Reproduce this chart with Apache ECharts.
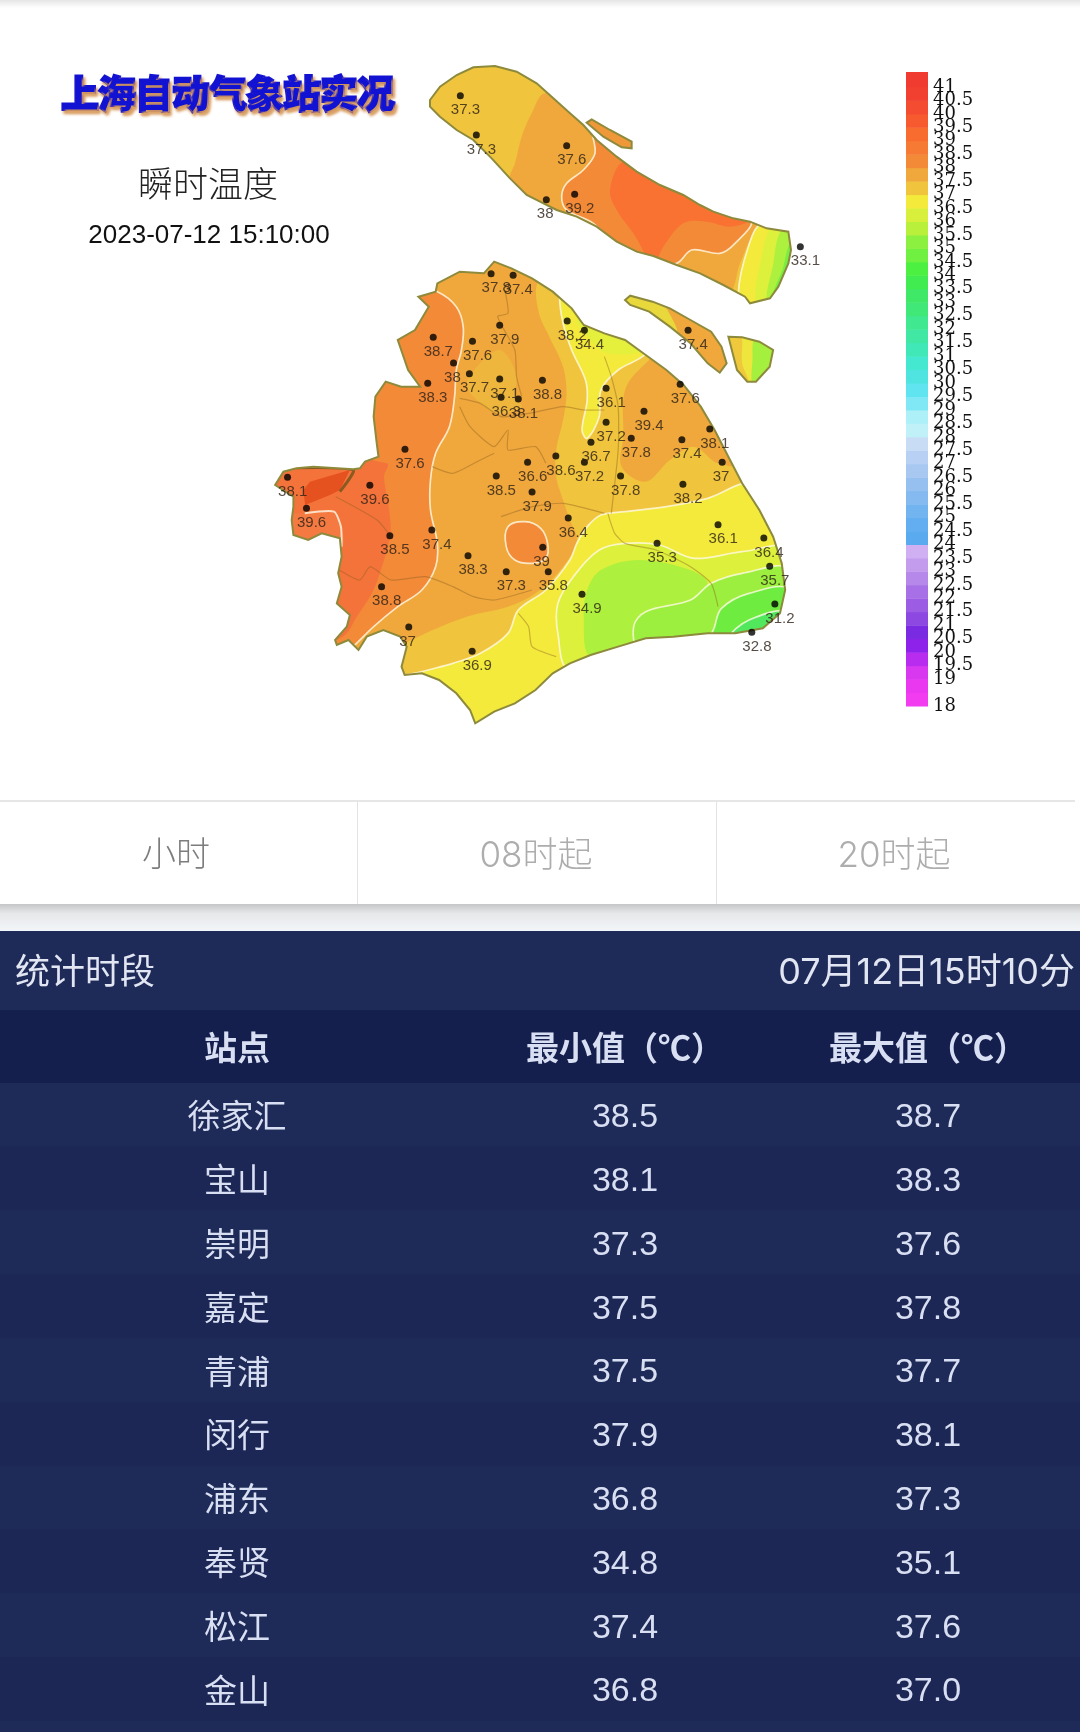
<![CDATA[<!DOCTYPE html>
<html><head><meta charset="utf-8">
<style>html,body{margin:0;padding:0;background:#fff}#c{width:1080px;height:1732px}</style>
<script src="https://cdn.jsdelivr.net/npm/echarts@6/dist/echarts.min.js"></script>
</head><body><div id="c"></div>
<script>
// ---------- table data ----------
const stationNames = ['徐家汇','宝山','崇明','嘉定','青浦','闵行','浦东','奉贤','松江','金山'];
const minValues = ['38.5','38.1','37.3','37.5','37.5','37.9','36.8','34.8','37.4','36.8'];
const maxValues = ['38.7','38.3','37.6','37.8','37.7','38.1','37.3','35.1','37.6','37.0'];
const columnHeaders = ['站点','最小值（℃）','最大值（℃）'];
const tabLabels = ['小时','08时起','20时起'];

// ---------- weather stations, map units ----------
const mainX = [671,735,696,503,617,562,608,696,820,487,700,750,1005,1220,1115,1005,1078,1225,1306,961,1342,859,942,777,686,1047,1228,790,421,319,80,135,377,499,895,1330,1153,1463,1480,821,604,715,837,353,935,1495,1428,432,616,892,942,1243];
const mainY = [71,76,226,262,274,339,371,387,391,400,442,447,415,403,484,517,565,569,537,577,637,618,637,637,678,678,703,726,598,706,682,775,857,840,804,824,880,864,949,892,917,965,965,1010,1033,1062,1147,1131,1204,213,241,241];
const mainTemp = [37.8,37.4,37.9,38.7,37.6,38,37.7,37.1,38.8,38.3,36.3,38.1,36.1,37.6,39.4,37.2,37.8,37.4,38.1,36.7,37,38.6,37.2,36.6,38.5,37.8,38.2,37.9,37.6,39.6,38.1,39.6,38.5,37.4,36.4,36.1,35.3,36.4,35.7,39,38.3,37.3,35.8,38.8,34.9,31.2,32.8,37,36.9,38.2,34.4,37.4];
const northX = [121,169,440,464,379,1141];
const northY = [137,255,287,433,449,590];
const northTemp = [37.3,37.3,37.6,39.2,38,33.1];

// ---------- coast outlines ----------
const mainlandCoast = [[680,35],[730,55],[790,85],[850,125],[905,175],[940,225],[1000,250],[1060,270],[1120,315],[1180,360],[1230,405],[1280,470],[1320,540],[1360,620],[1400,700],[1450,780],[1490,860],[1515,940],[1525,1020],[1510,1090],[1460,1135],[1380,1150],[1300,1150],[1200,1160],[1120,1165],[1040,1190],[960,1215],[900,1240],[850,1270],[800,1320],[740,1360],[680,1385],[625,1420],[610,1380],[570,1330],[520,1290],[470,1270],[420,1275],[411,1250],[426,1190],[407,1160],[358,1140],[310,1160],[286,1200],[257,1170],[223,1185],[218,1170],[252,1130],[261,1095],[223,1060],[237,1010],[227,970],[237,920],[232,865],[179,850],[140,870],[97,855],[92,810],[97,770],[97,740],[44,705],[68,665],[106,655],[155,650],[271,658],[290,655],[305,635],[344,620],[339,580],[330,500],[335,440],[365,395],[410,410],[465,410],[430,360],[400,270],[450,240],[490,170],[460,140],[510,125],[515,100],[580,65],[650,70]];
const changxingCoast = [[1060,150],[1075,137],[1140,155],[1190,175],[1250,210],[1310,245],[1340,290],[1355,340],[1335,368],[1300,340],[1250,280],[1190,230],[1130,185],[1075,165]];
const hengshaCoast = [[1360,260],[1400,262],[1450,275],[1490,300],[1480,350],[1440,395],[1415,395],[1385,360],[1375,320]];
const chongmingCoast = [[30,150],[60,110],[110,75],[160,52],[225,48],[290,65],[350,100],[400,145],[450,190],[490,225],[530,270],[590,320],[650,365],[720,405],[790,435],[840,465],[880,485],[940,505],[990,515],[1040,535],[1105,545],[1113,600],[1105,640],[1075,710],[1050,745],[990,760],[975,740],[910,705],[840,670],[770,645],[700,618],[650,605],[590,575],[530,530],[470,500],[410,480],[360,455],[320,435],[270,385],[215,325],[160,270],[110,240],[60,200],[30,170]];
const isletCoast = [[500,218],[515,208],[570,240],[635,275],[635,295],[605,292],[550,260]];

// ---------- temperature bands of the mainland ----------
const hot38West = [[515,125],[570,170],[590,230],[585,300],[570,360],[565,440],[550,530],[510,610],[495,690],[495,780],[515,880],[510,950],[470,1020],[400,1070],[330,1130],[270,1190],[200,1250],[0,1100],[0,600],[300,300],[400,90]];
const hot39West = [[368,640],[360,680],[375,780],[378,855],[348,970],[325,1030],[281,1100],[240,1160],[100,1200],[0,1000],[0,600]];
const hot38Spot = [[720,830],[770,815],[815,835],[835,880],[830,925],[790,940],[740,930],[715,890]];
const warmPatchNorth = [[630,350],[690,300],[720,320],[745,380],[740,440],[760,470],[690,490],[620,440],[600,400]];
const cool37East = [[805,100],[810,190],[840,260],[880,350],[890,430],[880,510],[860,600],[860,680],[880,750],[900,810],[920,870],[880,950],[800,1030],[720,1070],[600,1100],[460,1160],[400,1200],[370,1300],[600,1440],[1568,1300],[1568,500],[1100,200],[850,60]];
const warm375Lobe = [[1115,345],[1060,420],[1055,560],[1050,650],[1120,695],[1190,630],[1260,590],[1330,640],[1420,640],[1300,400],[1180,300]];
const cool365North = [[870,140],[880,220],[905,300],[945,390],[950,450],[935,540],[950,565],[985,500],[990,420],[1040,360],[1110,320],[1140,280],[1000,150],[880,80]];
const cool36North = [[920,205],[960,270],[1010,310],[1110,300],[1040,230]];
const cool365South = [[1430,700],[1300,745],[1180,770],[1060,785],[990,795],[950,830],[920,880],[900,930],[830,1020],[750,1080],[720,1150],[640,1210],[560,1240],[470,1265],[400,1290],[600,1440],[1100,1300],[1568,1200],[1568,800]];
const cool36South = [[1540,900],[1400,905],[1260,925],[1160,885],[1060,880],[985,900],[910,980],[865,1060],[865,1150],[900,1260],[1200,1240],[1568,1200]];
const cool35Centre = [[990,960],[1100,930],[1250,960],[1300,1000],[1250,1050],[1120,1085],[1085,1130],[1100,1190],[960,1220],[940,1100],[950,1020]];
const cool35East = [[1540,960],[1400,970],[1310,1000],[1250,1050],[1120,1085],[1085,1130],[1105,1200],[1568,1200]];
const cool34East = [[1540,1020],[1420,1030],[1340,1075],[1320,1130],[1300,1200],[1568,1200]];
const cool33East = [[1540,1085],[1420,1110],[1370,1160],[1568,1180]];
const patchNorthWest = [[126,720],[145,695],[261,660],[232,720],[203,735],[131,765]];
const isotherm39 = [[130,790],[215,785],[235,830],[237,890]];
const patchSouthWest = [[130,790],[215,785],[235,830],[237,890],[100,900],[60,800]];
const darkStrip = [[106,653],[271,660],[232,725]];

// ---------- district borders ----------
const districtLines = [
 [[712,125],[720,190],[690,200],[740,300],[745,380],[760,440]],
 [[580,445],[640,460],[700,500],[780,490],[880,470],[940,480],[1000,480]],
 [[580,470],[610,530],[680,590],[720,540],[720,600],[800,590],[830,640]],
 [[500,650],[560,670],[640,630],[680,610]],
 [[230,960],[290,990],[320,950],[380,990],[480,980],[560,1010],[620,1040],[680,1050],[790,1020]],
 [[700,800],[790,770],[880,760],[1000,790]],
 [[1010,790],[1030,850],[1060,880],[1150,900],[1250,950],[1310,1000],[1330,1070]],
 [[750,1090],[780,1130],[790,1190],[860,1220]],
 [[1000,320],[1020,380],[1040,470],[1040,600],[1020,790]],
 [[220,740],[340,810],[380,860]]
];

// ---------- north islands bands ----------
const cmOrange = [[375,130],[335,190],[305,260],[285,340],[270,385],[300,480],[600,640],[920,730],[960,640],[985,580],[1020,510],[700,300],[500,170]];
const cm38 = [[520,240],[525,310],[490,360],[440,400],[425,440],[440,480],[520,520],[600,600],[700,640],[770,640],[815,600],[900,610],[945,580],[995,510],[900,450],[700,360],[600,280]];
const cm39 = [[610,335],[570,420],[590,480],[640,550],[700,640],[730,590],[790,520],[860,515],[930,530],[985,510],[860,450],[700,370]];
const cm365 = [[1025,520],[985,590],[955,730],[980,790],[1140,790],[1140,510]];
const cm36 = [[1060,525],[1025,620],[1015,770],[1140,780],[1140,510]];
const cm35 = [[1085,540],[1060,640],[1045,770],[1140,770],[1140,530]];
const cm34 = [[1110,580],[1090,650],[1060,750],[1140,750],[1140,560]];
const changxingYellow = [[1040,120],[1150,140],[1180,175],[1210,250],[1100,190],[1040,170]];
const hengshaWest = [[1350,250],[1395,250],[1400,340],[1420,410],[1350,410]];
const hengshaEast = [[1440,260],[1430,330],[1435,410],[1510,410],[1510,260]];

// ---------- colour scale ----------
const scaleTemps = [41,18]; // top and bottom legend ticks
const scalePalette = ['#f23cf0','#ea38f0','#d838f0','#b82cf0','#8f22ea','#7a2ae0','#8c48e0','#9c5ce4','#a870e6','#b688ea','#c49cee','#d0b0f2','#5aaaf0','#62aef0','#72b4f0','#84baf0','#96c0f0','#a8c8f2','#b8d0f4','#c8dcf6','#c0f0f8','#aef0f8','#80e8f4','#60e4f0','#50e4e0','#44e8d0','#40e8b8','#40e8a4','#40e890','#40e878','#40e868','#40ec50','#4cf040','#70f040','#8cf040','#b8f03c','#d8f03c','#f4ea3c','#f0c43c','#f0a83c','#f28a38','#f67a34','#f86c30','#f85a30','#f44c30','#f24030','#f03c30'];
const scaleData = scalePalette.map((c,i)=>[18+i*0.5]);
const tempColor = t => scalePalette[Math.round((t-18)*2)];

const WHITE_LINE = 'rgba(255,250,230,0.8)';
const COAST = '#8d8a3c';
const CJK = '"Noto Sans CJK SC","Noto Sans",sans-serif';
const UI_LATIN = 'Inter,"Noto Sans CJK SC",sans-serif';
const NUM = '"Liberation Sans","Noto Sans CJK SC",sans-serif';

function land(coast, base, bands, lines){
  return {
    type:'custom', coordinateSystem:'cartesian2d', clip:false, silent:true, z:2,
    data:[[0,0]],
    renderItem:(p,api)=>{
      const pts = a => a.map(q=>api.coord(q));
      const kids = [{type:'polygon',shape:{points:pts(coast)},style:{fill:base}}];
      (bands||[]).forEach(b=>kids.push({type:'polygon',shape:{points:pts(b.pts),smooth:b.smooth===0?0:0.35},
        style:{fill:b.color,stroke:b.line?WHITE_LINE:null,lineWidth:b.line?1.7:0}}));
      (lines||[]).forEach(l=>kids.push({type:'polyline',shape:{points:pts(l.pts),smooth:0.2},
        style:{fill:null,stroke:l.color,lineWidth:l.width}}));
      return {type:'group',children:[
        {type:'group',clipPath:{type:'polygon',shape:{points:pts(coast)}},children:kids},
        {type:'polygon',shape:{points:pts(coast)},style:{fill:null,stroke:COAST,lineWidth:2}}
      ]};
    }
  };
}
const B=(pts,t,line,smooth)=>({pts,color:typeof t==='number'?tempColor(t):t,line,smooth});

const mainBands = [
  B(hot38West,38,true), B(hot39West,'#f4733a',false), B(patchSouthWest,'#f47a42',false),
  B(patchNorthWest,'#e5511f',false,0),
  B(hot38Spot,38,true), B(warmPatchNorth,'#eeb63c',false),
  B(cool37East,37,false), B(warm375Lobe,37.5,false),
  B(cool365North,36.5,true), B(cool36North,'#e4f03c',false),
  B(cool365South,36.5,true), B(cool36South,'#dcf03c',true),
  B(cool35Centre,'#aef03e',false), B(cool35East,'#9cef3e',true), B(cool34East,'#6fec40',true), B(cool33East,'#52e85e',true)
];
const mainLines = districtLines.map(l=>({pts:l,color:'rgba(140,95,30,0.42)',width:1.2}))
  .concat([{pts:isotherm39,color:WHITE_LINE,width:2},{pts:darkStrip,color:'#8a5a20',width:3}]);
const cmBands = [
  B(cmOrange,37.5,false), B(cm38,38,true), B(cm39,'#f97232',false),
  B(cm365,36.5,true), B(cm36,'#dcf03c',false), B(cm35,'#aef03e',false), B(cm34,'#78ee40',false)
];

function stations(xs,ys,ts,ax){
  return {type:'scatter',xAxisIndex:ax,yAxisIndex:ax,symbol:'circle',symbolSize:7,z:5,silent:true,clip:false,
    itemStyle:{color:'#000'},
    data:xs.map((x,i)=>[x,ys[i],ts[i]]),
    label:{show:true,position:[-6,18],align:'left',verticalAlign:'middle',formatter:p=>String(p.value[2]),
      fontFamily:'"Liberation Sans",sans-serif',fontSize:15,color:'#2c2018'},
    labelLayout:{hideOverlap:false}
  };
}
const at = (o,ax)=>Object.assign(o,{xAxisIndex:ax,yAxisIndex:ax});

const series = [
  at(land(mainlandCoast,tempColor(37.5),mainBands,mainLines),0),
  at(land(changxingCoast,tempColor(37.5),[B(changxingYellow,'#e8d83c',false)],null),0),
  at(land(hengshaCoast,'#eee63c',[B(hengshaWest,'#efc83c',false),B(hengshaEast,'#a5ef3f',false)],null),0),
  at(land(chongmingCoast,tempColor(37),cmBands,null),1),
  at(land(isletCoast,'#ee983a',null,null),1),
  stations(mainX,mainY,mainTemp,0),
  stations(northX,northY,northTemp,1),
  { type:'custom',xAxisIndex:2,yAxisIndex:2,silent:true,z:3,clip:false,data:scaleData,encode:{y:0},
    renderItem:(p,api)=>{
      const v=api.value(0);
      const a=api.coord([0,v+0.5]), b=api.coord([1,v]);
      const top=p.dataIndex===scalePalette.length-1?1.5:0;
      return {type:'rect',shape:{x:a[0],y:a[1]-top,width:b[0]-a[0],height:b[1]-a[1]+0.5+top},style:{fill:scalePalette[p.dataIndex]}};
    }},
  { type:'custom',xAxisIndex:3,yAxisIndex:3,silent:true,z:3,clip:false,
    data:stationNames.map((n,i)=>[i,minValues[i],maxValues[i]]),
    encode:{y:0},
    renderItem:(p,api)=>{
      const i=p.dataIndex, h=api.size([0,1])[1];
      const cols=[237,625,928];
      const row=api.coord([0,i]);
      const txt=(s,cx,f,dy)=>({type:'text',x:cx,y:row[1]+dy,style:{text:s,fill:'#d9dff2',font:f,textAlign:'center',textVerticalAlign:'middle'}});
      return {type:'group',children:[
        {type:'rect',shape:{x:0,y:row[1]-h/2,width:1080,height:h},style:{fill:i%2?'#1c2755':'#1e2a58'}},
        txt(stationNames[i],cols[0],'33px '+CJK,1),txt(minValues[i],cols[1],'34px '+NUM,3),txt(maxValues[i],cols[2],'34px '+NUM,3)
      ]};
    }}
];

const T=(text,x,y,size,fill,align,weight,extra,fam)=>({type:'text',x,y,z:20,silent:true,style:Object.assign({text,fill,
  font:(weight||'normal')+' '+size+'px '+(fam||CJK),textAlign:align||'center',textVerticalAlign:'middle'},extra||{})});

const graphics = [
  {type:'rect',z:-1,silent:true,shape:{x:0,y:0,width:1080,height:8},style:{fill:new echarts.graphic.LinearGradient(0,0,0,1,[{offset:0,color:'#e6e6e6'},{offset:1,color:'#ffffff'}])}},
  T('上海自动气象站实况',228,94,37,'#1212d2','center','900',{stroke:'#1212d2',lineWidth:3,textShadowColor:'#d89a5a',textShadowBlur:3,textShadowOffsetX:2,textShadowOffsetY:3}),
  T('瞬时温度',208,184,35,'#222','center','300'),
  {type:'text',x:209,y:236,z:20,silent:true,style:{text:'2023-07-12 15:10:00',fill:'#111',font:'26px "Liberation Sans",sans-serif',textAlign:'center',textVerticalAlign:'middle'}},
  {type:'rect',silent:true,shape:{x:0,y:800,width:1075,height:2},style:{fill:'#e6e6e6'}},
  {type:'rect',silent:true,shape:{x:357,y:802,width:1,height:102},style:{fill:'#e2e2e2'}},
  {type:'rect',silent:true,shape:{x:716,y:802,width:1,height:102},style:{fill:'#e2e2e2'}},
  {type:'rect',silent:true,shape:{x:0,y:904,width:1080,height:27},style:{fill:new echarts.graphic.LinearGradient(0,0,0,1,[{offset:0,color:'#c4c6c8'},{offset:0.35,color:'#e6e8ea'},{offset:1,color:'#f3f6f8'}])}},
  T(tabLabels[0],176,856,34,'#7d7d7d','center','300',null,UI_LATIN),
  T(tabLabels[1],536,856,35,'#adadad','center','300',null,UI_LATIN),
  T(tabLabels[2],894,856,35,'#adadad','center','300',null,UI_LATIN),
  {type:'rect',silent:true,shape:{x:0,y:931,width:1080,height:801},style:{fill:'#1e2a58'}},
  {type:'rect',silent:true,shape:{x:0,y:1010,width:1080,height:73},style:{fill:'#141f4e'}},
  T('统计时段',15,971,35,'#e2e6f2','left'),
  T('07月12日15时10分',1075,973,36,'#e2e6f2','right','normal',null,UI_LATIN),
  T(columnHeaders[0],237,1047,33,'#d9dff2','center','bold'),
  T(columnHeaders[1],625,1047,33,'#d9dff2','center','bold'),
  T(columnHeaders[2],928,1047,33,'#d9dff2','center','bold')
];

const hidden = o=>Object.assign({show:false},o);
const option = {
  animation:false,
  backgroundColor:'#ffffff',
  grid:[
    {left:260,top:250,width:540,height:480},
    {left:420,top:50,width:420,height:320},
    {left:906,top:73.5,width:22,height:632.5},
    {left:0,top:1083,width:1080,height:638}
  ],
  xAxis:[
    hidden({type:'value',gridIndex:0,min:0,max:1568}),
    hidden({type:'value',gridIndex:1,min:0,max:1260}),
    hidden({type:'value',gridIndex:2,min:0,max:1}),
    hidden({type:'value',gridIndex:3,min:0,max:1080})
  ],
  yAxis:[
    hidden({type:'value',gridIndex:0,min:0,max:1440,inverse:true}),
    hidden({type:'value',gridIndex:1,min:0,max:960,inverse:true}),
    {type:'value',gridIndex:2,min:18,max:41.5,interval:0.5,position:'right',
     axisLine:{show:false},axisTick:{show:false},splitLine:{show:false},
     axisLabel:{show:true,margin:5,fontFamily:'"DejaVu Serif",serif',fontSize:18,color:'#111',
       showMinLabel:true,showMaxLabel:false,hideOverlap:false,
       formatter:v=>(v>scaleTemps[0]?'':String(v))}},
    hidden({type:'category',gridIndex:3,inverse:true,data:stationNames})
  ],
  graphic:{elements:graphics},
  series
};
echarts.init(document.getElementById('c'),null,{renderer:'canvas'}).setOption(option);
</script></body></html>]]>
